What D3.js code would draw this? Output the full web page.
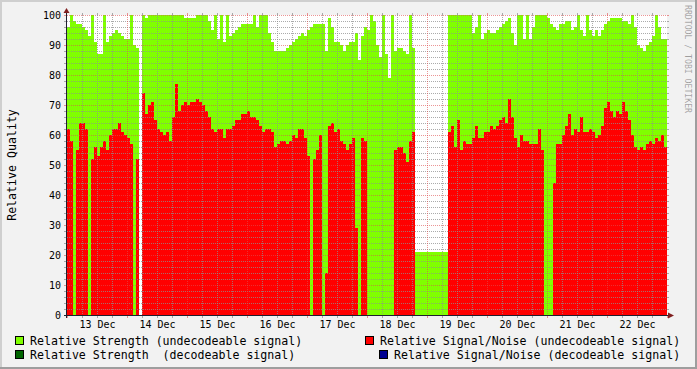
<!DOCTYPE html>
<html>
<head>
<meta charset="utf-8">
<script src="https://cdn.jsdelivr.net/npm/d3@7"></script>
<style>
  body { margin: 0; background: #f2f2f2; }
  svg text { font-family: "DejaVu Sans Mono", monospace; }
</style>
</head>
<body>
<div id="chart"></div>
<script>
// one sample every 72 minutes, 13 Dec 00:00 -> 23 Dec 00:00
const startDate = new Date(2010, 11, 13);
const endDate = new Date(2010, 11, 23);
const stepMinutes = 72;

// relative strength (undecodeable signal), %
const strength = [
  96,100,98,97,97,96,95,93,100,91,
  87,87,100,91,93,94,95,94,93,92,
  92,100,90,89,null,100,99,100,100,100,
  100,100,100,100,100,100,100,100,100,99,
  99,99,99,100,100,100,100,98,95,100,
  92,100,91,100,93,94,95,96,97,97,
  97,97,100,96,100,100,100,94,91,88,
  88,88,88,89,90,91,92,93,94,93,
  95,96,97,97,97,97,88,99,96,91,
  91,90,88,90,91,91,94,85,93,96,
  95,100,98,90,86,100,87,79,100,88,
  89,89,88,87,100,89,21,21,21,21,
  21,21,21,21,21,21,21,100,100,100,
  100,100,100,100,100,94,96,100,92,94,
  95,94,94,95,96,97,98,99,94,90,
  100,100,92,100,92,96,100,100,100,100,
  99,97,96,95,97,97,98,98,95,96,
  100,95,93,100,95,93,95,93,95,97,
  98,99,99,99,99,98,98,97,100,96,
  90,89,88,90,91,93,100,96,92,92
];

// relative signal/noise (undecodeable signal), %
const snr = [
  62,58,0,55,64,64,62,0,52,56,
  53,56,58,55,60,62,62,64,61,60,
  59,57,0,52,null,74,67,70,71,65,
  62,61,60,61,58,66,77,68,70,71,
  70,71,71,72,71,70,68,66,62,61,
  62,62,59,62,62,63,65,65,67,67,
  68,66,66,65,63,61,62,62,61,56,
  57,58,58,57,58,60,59,62,62,59,
  53,0,52,55,60,0,14,63,64,61,
  62,58,57,55,57,59,29,0,59,58,
  0,0,0,0,0,0,0,0,0,55,
  56,56,54,51,58,61,0,0,0,0,
  0,0,0,0,0,0,0,61,63,56,
  65,55,58,57,57,59,63,59,59,61,
  61,63,62,63,65,66,64,72,66,59,
  56,60,58,58,57,57,57,62,55,0,
  0,0,44,57,57,60,63,67,60,62,
  61,66,61,61,62,61,59,60,63,69,
  71,68,66,68,67,71,68,65,60,56,
  55,56,55,57,58,57,59,58,60,56
];

const yTickValues = [0, 10, 20, 30, 40, 50, 60, 70, 80, 90, 100];
const dayLabels = ["13 Dec", "14 Dec", "15 Dec", "16 Dec", "17 Dec",
                   "18 Dec", "19 Dec", "20 Dec", "21 Dec", "22 Dec"];

const legendLeft = ["Relative Strength (undecodeable signal)",
                    "Relative Strength  (decodeable signal)"];
const legendRight = ["Relative Signal/Noise (undecodeable signal)",
                     "Relative Signal/Noise (decodeable signal)"];

const W = 697, H = 369;
const x0 = 67, x1 = 667, yTop = 15, yBot = 315;

const svg = d3.select("#chart").append("svg")
  .attr("width", W).attr("height", H);

// background + 3d frame
svg.append("rect").attr("width", W).attr("height", H).attr("fill", "#f2f2f2");
svg.append("rect").attr("x", 0).attr("y", 0).attr("width", W).attr("height", 2).attr("fill", "#cfcfcf");
svg.append("rect").attr("x", 0).attr("y", 0).attr("width", 2).attr("height", H).attr("fill", "#cfcfcf");
svg.append("rect").attr("x", 0).attr("y", H - 2).attr("width", W).attr("height", 2).attr("fill", "#9e9e9e");
svg.append("rect").attr("x", W - 2).attr("y", 0).attr("width", 2).attr("height", H).attr("fill", "#9e9e9e");

// canvas
svg.append("rect").attr("x", x0).attr("y", yTop)
  .attr("width", x1 - x0).attr("height", yBot - yTop).attr("fill", "#fff");

const x = d3.scaleTime().domain([startDate, endDate]).range([x0, x1]);
const y = d3.scaleLinear().domain([0, 100]).range([yBot, yTop]);

const t = i => d3.timeMinute.offset(startDate, i * stepMinutes);

function drawArea(values, color) {
  svg.append("g").attr("shape-rendering", "crispEdges")
    .selectAll("rect")
    .data(values.map((v, i) => ({ v, i })).filter(d => d.v != null && d.v > 0))
    .enter().append("rect")
    .attr("x", d => x(t(d.i)))
    .attr("width", d => x(t(d.i + 1)) - x(t(d.i)))
    .attr("y", d => y(d.v))
    .attr("height", d => y(0) - y(d.v))
    .attr("fill", color);
}
drawArea(strength, "#80ff00");
drawArea(snr, "#ff0000");

// grid (drawn on top, like rrdtool)
const gridCol = "rgba(143,143,143,0.75)";
const mgridCol = "rgba(222,79,79,0.6)";
const grid = svg.append("g").attr("shape-rendering", "crispEdges");

d3.range(2, 101, 2).forEach(v => {
  const major = v % 10 === 0;
  const col = major ? mgridCol : gridCol;
  const yy = y(v) + 0.5;
  grid.append("line").attr("x1", x0).attr("x2", x1).attr("y1", yy).attr("y2", yy)
    .attr("stroke", col).attr("stroke-dasharray", "1,1");
  grid.append("line").attr("x1", x0 - 3).attr("x2", x0 - 1).attr("y1", yy).attr("y2", yy).attr("stroke", col);
  grid.append("line").attr("x1", x1).attr("x2", x1 + 2).attr("y1", yy).attr("y2", yy).attr("stroke", col);
});

d3.timeHour.every(6).range(startDate, d3.timeMinute.offset(endDate, 1)).forEach(d => {
  const major = d.getHours() === 0;
  const col = major ? mgridCol : gridCol;
  const xx = x(d) + 0.5;
  if (xx > x0 + 1 && xx < x1) {
    grid.append("line").attr("x1", xx).attr("x2", xx).attr("y1", yTop).attr("y2", yBot)
      .attr("stroke", col).attr("stroke-dasharray", "1,1");
    grid.append("line").attr("x1", xx).attr("x2", xx).attr("y1", yTop - 2).attr("y2", yTop).attr("stroke", col);
  }
  grid.append("line").attr("x1", xx).attr("x2", xx).attr("y1", yBot + 1).attr("y2", yBot + 3).attr("stroke", col);
});

// axes lines + arrows
const axisCol = "#1f1f2f";
svg.append("line").attr("x1", x0 - 3).attr("x2", x1 + 4).attr("y1", yBot + 0.5).attr("y2", yBot + 0.5)
  .attr("stroke", axisCol);
svg.append("line").attr("x1", x0 - 0.5).attr("x2", x0 - 0.5).attr("y1", yBot + 3).attr("y2", yTop - 3)
  .attr("stroke", axisCol);
svg.append("path").attr("d", `M${x1 + 1},${yBot - 2.5}L${x1 + 7},${yBot + 0.5}L${x1 + 1},${yBot + 3.5}Z`)
  .attr("fill", "#802020");
svg.append("path").attr("d", `M${x0 - 3.5},${yTop - 2}L${x0 - 0.5},${yTop - 7}L${x0 + 2.5},${yTop - 2}Z`)
  .attr("fill", "#802020");

// y axis labels
const yAxis = svg.append("g").attr("transform", `translate(${x0 - 1},0)`)
  .call(d3.axisLeft(y).tickValues(yTickValues).tickSize(0).tickPadding(5).tickFormat(d3.format("d")));
yAxis.select(".domain").remove();
yAxis.selectAll("text").attr("font-size", 10).attr("fill", "#000").attr("dy", "0.38em")
  .attr("font-family", "DejaVu Sans Mono");

// x axis labels at noon
const noonTicks = dayLabels.map((_, i) => d3.timeHour.offset(d3.timeDay.offset(startDate, i), 12));
const xAxis = svg.append("g").attr("transform", `translate(0,${yBot})`)
  .call(d3.axisBottom(x).tickValues(noonTicks).tickSize(0).tickFormat((d, i) => dayLabels[i]));
xAxis.select(".domain").remove();
xAxis.selectAll("text").attr("font-size", 10).attr("fill", "#000").attr("y", 12.5).attr("dy", null)
  .attr("font-family", "DejaVu Sans Mono");

// y title
svg.append("text").attr("transform", "translate(15.5,165) rotate(-90)")
  .attr("text-anchor", "middle").attr("font-size", 11.6).text("Relative Quality");

// watermark
svg.append("text").attr("transform", "translate(685,5) rotate(90)")
  .attr("font-size", 8.2).attr("textLength", 108).attr("lengthAdjust", "spacing")
  .attr("fill", "rgba(0,0,0,0.35)").text("RRDTOOL / TOBI OETIKER");

// legend
const legendItems = [
  { label: legendLeft[0], color: "#80ff00", bx: 15, tx: 30, yb: 345 },
  { label: legendLeft[1], color: "#006400", bx: 15, tx: 30, yb: 359 },
  { label: legendRight[0], color: "#ff0000", bx: 365, tx: 380, yb: 345 },
  { label: legendRight[1], color: "#000090", bx: 379, tx: 394, yb: 359 }
];
const lg = svg.append("g");
lg.selectAll("rect").data(legendItems).enter().append("rect")
  .attr("x", d => d.bx + 0.5).attr("y", d => d.yb - 8.5).attr("width", 8).attr("height", 8)
  .attr("fill", d => d.color).attr("stroke", "#000");
lg.selectAll("text").data(legendItems).enter().append("text")
  .attr("x", d => d.tx).attr("y", d => d.yb).attr("font-size", 11.6)
  .attr("xml:space", "preserve").style("white-space", "pre")
  .text(d => d.label);
</script>
</body>
</html>
